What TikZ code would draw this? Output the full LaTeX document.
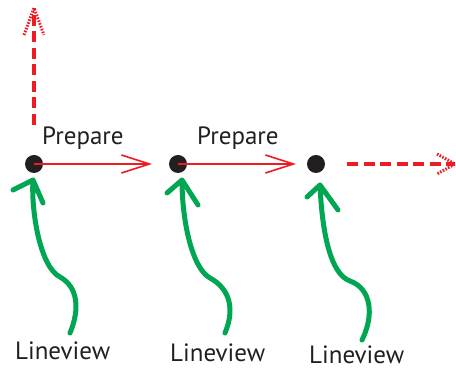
\documentclass[tikz,border=0pt]{standalone}
\usepackage{fontspec}
\setmainfont{PT Sans}
\usepackage{tikz}
\usetikzlibrary{calc}
\usetikzlibrary{arrows.meta}

\definecolor{stepred}{HTML}{ED1C24}
\definecolor{vinegreen}{HTML}{00A651}
\definecolor{inkblack}{HTML}{231F20}

\begin{document}
\begin{tikzpicture}[x=1pt, y=1pt,
    every node/.style={font=\fontsize{25}{29}\selectfont, text=inkblack, inner sep=0pt},
    state/.style={circle, fill=inkblack, minimum size=18pt},
    prep/.style={draw=stepred, line width=1.6pt, -{Straight Barb[length=28pt, width=18pt]}},
    later/.style={draw=stepred, line width=4pt, dash pattern=on 11pt off 5.5pt},
    laterhead/.style={draw=stepred, line width=3pt, dash pattern=on 1.6pt off 1.4pt},
    vine/.style={draw=vinegreen, line width=5pt, line cap=round, line join=round}]
\useasboundingbox (0,0) rectangle (456,371);

% the three states
\node[state] (p1) at (34,207) {};
\node[state] (p2) at (178,207) {};
\node[state] (p3) at (316,207) {};

% labels
\node[anchor=base west] (prep1) at (42,226) {Prepare};
\node[anchor=base west] (prep2) at (197,226) {Prepare};
\node[anchor=base west] (lv1) at (15,11) {Lineview};
\node[anchor=base west] (lv2) at (170,9) {Lineview};
\node[anchor=base west] (lv3) at (309,7) {Lineview};

% prepare steps
\draw[prep, shorten >=26pt] (p1.center) -- (p2.center);
\draw[prep, shorten >=20pt] (p2.center) -- (p3.center);

% dashed continuations
\coordinate (up) at (34,363);
\coordinate (next) at (455,207);
\draw[later, shorten <=39pt] (p1.center) -- (up);
\draw[laterhead] ($(up)+(-10,-27)$) -- (up) -- ($(up)+(10,-27)$);
\draw[later, shorten <=31pt] (p3.center) -- (next);
\draw[laterhead] ($(next)+(-18,10)$) -- (next) -- ($(next)+(-18,-10)$);

% lineview arrows
\coordinate (v1) at (70,38);
\coordinate (v2) at (225,38);
\coordinate (v3) at (362,31);
\coordinate (t1) at ($(p1)+(-1,-16)$);
\coordinate (t2) at ($(p2)+(4,-16)$);
\coordinate (t3) at ($(p3)+(4,-21)$);

\draw[vine] (v1) .. controls (80,62) and (78,84) .. (60,94)
    .. controls (40,104) and (31,160) .. (t1) -- +(-20,-10) (t1) -- +(10,-23);
\draw[vine] (v2) .. controls (235,62) and (230,82) .. (210,93)
    .. controls (192,103) and (182,150) .. (t2) -- +(-15,-13) (t2) -- +(16,-25);
\draw[vine] (v3) .. controls (374,55) and (372,82) .. (350,90)
    .. controls (330,97) and (322,140) .. (t3) -- +(-13,-12) (t3) -- +(18,-25);
\end{tikzpicture}
\end{document}
